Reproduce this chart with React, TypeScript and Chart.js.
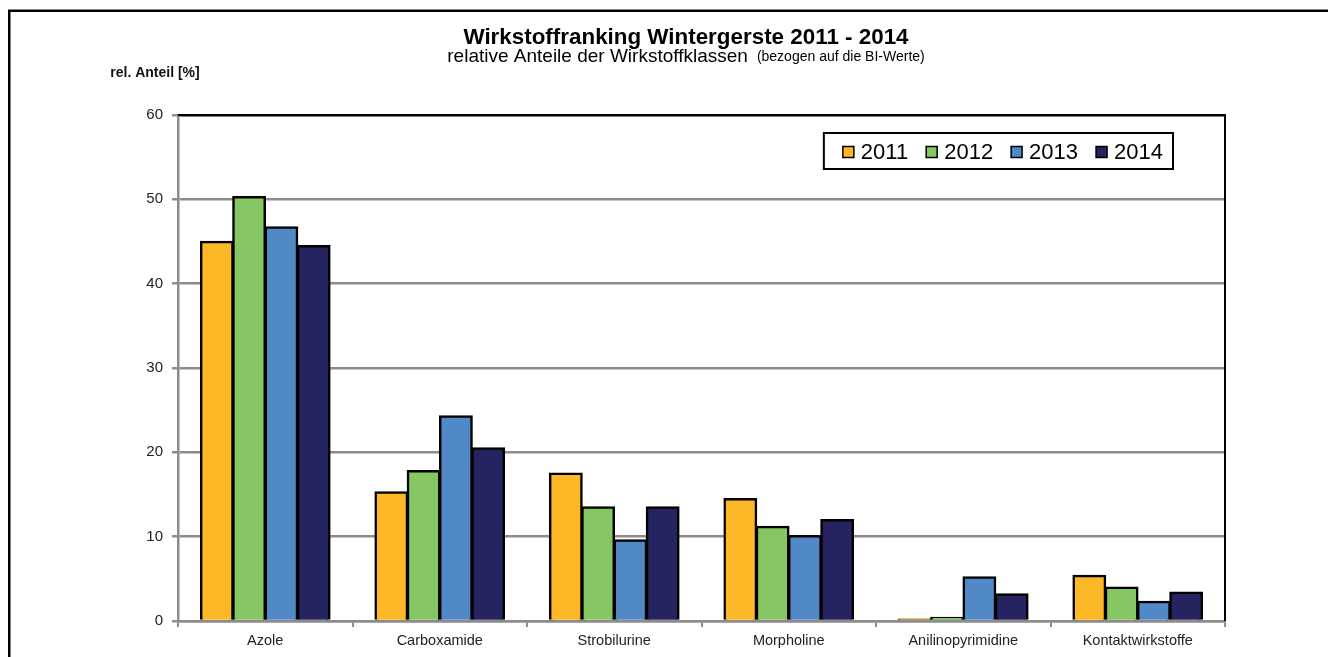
import React, { useEffect, useRef } from "react";
import { Chart, registerables } from "chart.js";

Chart.register(...registerables);

const categories = ["Azole", "Carboxamide", "Strobilurine", "Morpholine", "Anilinopyrimidine", "Kontaktwirkstoffe"];
const years = ["2011", "2012", "2013", "2014"];
const values2011 = [45.0, 15.3, 17.5, 14.5, 0.2, 5.4];
const values2012 = [50.3, 17.8, 13.5, 11.2, 0.4, 4.0];
const values2013 = [46.7, 24.3, 9.6, 10.1, 5.2, 2.3];
const values2014 = [44.5, 20.5, 13.5, 12.0, 3.2, 3.4];
const colors = ["#FDB827", "#86C663", "#5089C6", "#262460"];
const yTicks = [0, 10, 20, 30, 40, 50, 60];

const titleText = "Wirkstoffranking Wintergerste 2011 - 2014";
const subtitleMain = "relative Anteile der Wirkstoffklassen";
const subtitleNote = "(bezogen auf die BI-Werte)";
const yAxisTitle = "rel. Anteil [%]";

const FONT = "'Liberation Sans', Arial, sans-serif";
const GRID = "#8c8c8c";

const decorPlugin = {
  id: "decor",
  afterDraw(chart: any) {
    const ctx = chart.ctx;
    const area = chart.chartArea;
    ctx.save();
    // outer frame
    ctx.strokeStyle = "#000";
    ctx.lineWidth = 2.5;
    ctx.strokeRect(9.25, 10.75, 3000, 3000);

    // plot border top/right
    ctx.lineWidth = 2;
    ctx.beginPath();
    ctx.moveTo(area.left, area.top);
    ctx.lineTo(area.right, area.top);
    ctx.lineTo(area.right, area.bottom);
    ctx.stroke();

    // title
    ctx.fillStyle = "#000";
    ctx.textAlign = "center";
    ctx.textBaseline = "middle";
    const cx = 686;
    ctx.font = `bold 22.4px ${FONT}`;
    ctx.fillText(titleText, cx, 38);

    // subtitle
    ctx.font = `19px ${FONT}`;
    const w1 = ctx.measureText(subtitleMain).width;
    ctx.font = `14px ${FONT}`;
    const gap = 9;
    const w2 = ctx.measureText(subtitleNote).width;
    const start = cx - (w1 + gap + w2) / 2;
    ctx.textAlign = "left";
    ctx.font = `19px ${FONT}`;
    ctx.fillText(subtitleMain, start, 57);
    ctx.font = `14px ${FONT}`;
    ctx.fillText(subtitleNote, start + w1 + gap, 57);

    // y axis title
    ctx.textAlign = "center";
    ctx.font = `bold 14px ${FONT}`;
    ctx.fillStyle = "#111";
    ctx.fillText(yAxisTitle, 155, 73);

    // legend
    const ds = chart.data.datasets;
    ctx.font = `22px ${FONT}`;
    const padL = 19, padR = 10, marker = 11, mgap = 7, itemGap = 18;
    let total = padL + padR;
    const widths = ds.map((d: any) => ctx.measureText(d.label).width);
    widths.forEach((w: number, i: number) => {
      total += marker + mgap + w + (i < widths.length - 1 ? itemGap : 0);
    });
    const boxRight = area.right - 52;
    const boxTop = area.top + 18;
    const boxH = 36;
    const boxLeft = boxRight - total;
    ctx.fillStyle = "#fff";
    ctx.fillRect(boxLeft, boxTop, total, boxH);
    ctx.strokeStyle = "#000";
    ctx.lineWidth = 2;
    ctx.strokeRect(boxLeft, boxTop, total, boxH);
    let x = boxLeft + padL;
    const cy = boxTop + boxH / 2 + 1;
    ds.forEach((d: any, i: number) => {
      ctx.fillStyle = d.backgroundColor;
      ctx.fillRect(x, cy - marker / 2, marker, marker);
      ctx.lineWidth = 1.5;
      ctx.strokeStyle = "#000";
      ctx.strokeRect(x, cy - marker / 2, marker, marker);
      ctx.fillStyle = "#000";
      ctx.textAlign = "left";
      ctx.textBaseline = "middle";
      ctx.fillText(d.label, x + marker + mgap, cy + 1);
      x += marker + mgap + widths[i] + itemGap;
    });
    ctx.restore();
  },
};

export default function App() {
  const ref = useRef<HTMLCanvasElement | null>(null);
  useEffect(() => {
    if (!ref.current) return;
    const series = [values2011, values2012, values2013, values2014];
    const chart = new Chart(ref.current, {
      type: "bar",
      data: {
        labels: categories,
        datasets: years.map((y, i) => ({
          label: y,
          data: series[i],
          backgroundColor: colors[i],
          borderColor: "#000",
          borderWidth: 2.5,
          borderSkipped: "start",
          inflateAmount: 0.8,
          categoryPercentage: 0.74,
          barPercentage: 1.0,
        })),
      },
      options: {
        animation: false,
        responsive: false,
        layout: { padding: { left: 108, right: 103, top: 115, bottom: 6 } },
        plugins: { legend: { display: false }, title: { display: false }, tooltip: { enabled: false } },
        scales: {
          x: {
            grid: {
              offset: true,
              drawOnChartArea: false,
              drawTicks: true,
              tickLength: 6,
              color: GRID,
              lineWidth: 2,
            },
            border: { color: GRID, width: 2.5 },
            ticks: { color: "#222", font: { family: FONT, size: 14.5 }, padding: 5, maxRotation: 0 },
            afterFit: (s: any) => { s.height = 30; },
          },
          y: {
            min: 0,
            max: 60,
            afterBuildTicks: (s: any) => { s.ticks = yTicks.map((v) => ({ value: v })); },
            grid: {
              color: (c: any) => (c.tick && c.tick.value === 60 ? "#000" : GRID),
              tickColor: GRID,
              lineWidth: 2.5,
              tickLength: 6,
            },
            border: { color: GRID, width: 2.5 },
            ticks: { color: "#222", font: { family: FONT, size: 15 }, padding: 9 },
            afterFit: (s: any) => { s.width = 70; },
          },
        },
      },
      plugins: [decorPlugin],
    });
    return () => chart.destroy();
  }, []);
  return (
    <div style={{ position: "fixed", left: 0, top: 0, width: 1328, height: 657, background: "#fff" }}>
      <canvas ref={ref} width={1328} height={657} style={{ display: "block" }} />
    </div>
  );
}
